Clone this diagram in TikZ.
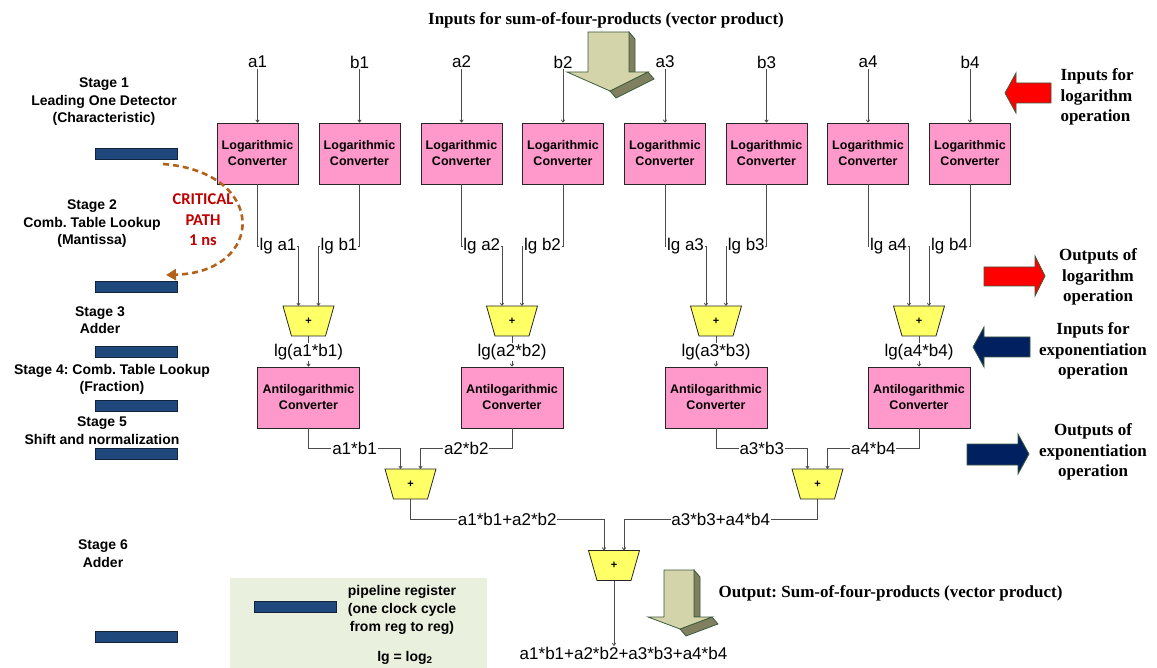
\documentclass[tikz,border=0pt]{standalone}
\usepackage{fontspec}
\setmainfont{Liberation Sans}
\newfontfamily\notefont{Liberation Serif}
\newfontfamily\critfont{Carlito}
\usetikzlibrary{arrows.meta,calc}
\frenchspacing

\definecolor{convpink}{RGB}{255,153,204}
\definecolor{addyellow}{RGB}{255,255,102}
\definecolor{regblue}{RGB}{31,73,125}
\definecolor{regedge}{RGB}{20,35,60}
\definecolor{critbrown}{RGB}{178,98,26}
\definecolor{critred}{RGB}{192,0,0}
\definecolor{arrowred}{RGB}{255,0,0}
\definecolor{arrownavy}{RGB}{0,32,96}
\definecolor{arrowedge}{RGB}{60,90,60}
\definecolor{khaki}{RGB}{212,212,170}
\definecolor{khakidark}{RGB}{128,128,96}
\definecolor{legendgreen}{RGB}{234,240,222}

\tikzset{
  conv/.style={draw=black!85, line width=0.8pt, fill=convpink, minimum width=81pt,
    minimum height=61pt, inner sep=0pt, align=center,
    font=\bfseries\fontsize{12.5}{16}\selectfont},
  aconv/.style={conv, minimum width=102pt},
  addbox/.style={rectangle, minimum width=51pt, minimum height=30pt, inner sep=0pt,
    font=\bfseries\fontsize{11}{12}\selectfont},
  adderline/.style={draw=black!85, line width=0.8pt, fill=addyellow},
  sig/.style={font=\fontsize{17}{20}\selectfont, inner sep=0.8pt},
  wlbl/.style={sig, fill=white},
  wire/.style={draw=black!70, line width=0.8pt},
  arr/.style={-{To[length=3pt,width=4pt]}},
  stagetxt/.style={align=center, font=\bfseries\fontsize{14}{17.5}\selectfont},
  reg/.style={draw=regedge, line width=0.8pt, fill=regblue, minimum width=82pt,
    minimum height=11pt, inner sep=0pt},
  note/.style={font=\notefont\bfseries\fontsize{17}{20.5}\selectfont, align=center},
  fatarrow/.style={draw=arrowedge, line width=0.8pt},
  critpath/.style={draw=critbrown, line width=2.6pt, dash pattern=on 6pt off 4pt,
    -{Triangle[length=10pt,width=11pt]}},
}

% adder: yellow trapezoid (wide side on top) with a named box for its anchors
\newcommand\addernode[3]{%
  \filldraw[adderline] (#2-25.5,#3-15) -- (#2+25.5,#3-15) -- (#2+17,#3+15)
    -- (#2-17,#3+15) -- cycle;
  \node[addbox] (#1) at (#2,#3) {+};}

\begin{document}
\begin{tikzpicture}[x=1pt,y=-1pt]
\useasboundingbox (0,0) rectangle (1157,668);

% ---- title and input arrow
\node[note] (title) at (606,20) {Inputs for sum-of-four-products (vector product)};
\fill[khakidark,fatarrow] (629,32) -- (635,39) -- (635,72) -- (629,72) -- cycle;
\fill[khakidark,fatarrow] (648,72) -- (654,79) -- (616,98) -- (610,91) -- cycle;
\fill[khaki,fatarrow] (588,32) -- (629,32) -- (629,72) -- (648,72) -- (610,91)
  -- (567,72) -- (588,72) -- cycle;

% ---- logarithmic converters
\foreach \n/\x/\t in {1/257.5/a1,2/359.5/b1,3/461.5/a2,4/563/b2,5/665/a3,6/766.5/b3,7/868/a4,8/970/b4}{
  \node[sig] (in\n) at (\x,62) {\t};
  \node[conv] (L\n) at (\x,153.5) {Logarithmic\\Converter};
  \draw[wire,arr] (in\n) -- (L\n);
}

% ---- first adders and antilogarithmic converters
\foreach \k/\x in {1/308.5,2/512,3/716,4/919}{
  \addernode{A\k}{\x}{321}
  \node[sig] (g\k) at (\x,352) {lg(a\k*b\k)};
  \node[aconv] (M\k) at (\x,397.5) {Antilogarithmic\\Converter};
  \coordinate (Al\k) at ([xshift=-10pt]A\k.north);
  \coordinate (Ar\k) at ([xshift=10pt]A\k.north);
  \draw[wire] (A\k.south) -- (g\k);
  \draw[wire,arr] (g\k) -- (M\k);
}

\coordinate (ylg) at (0,246);
\foreach \i/\k/\s/\t in {1/1/l/a1,2/1/r/b1,3/2/l/a2,4/2/r/b2,5/3/l/a3,6/3/r/b3,7/4/l/a4,8/4/r/b4}{
  \draw[wire,arr] (L\i.south) |- node[wlbl,pos=0.75]{lg \t} (A\s\k |- ylg) -- (A\s\k);
}

% ---- second level adders
\addernode{B1}{410.5}{484}
\addernode{B2}{817.5}{484}
\coordinate (Bl1) at ([xshift=-10pt]B1.north);
\coordinate (Br1) at ([xshift=10pt]B1.north);
\coordinate (Bl2) at ([xshift=-10pt]B2.north);
\coordinate (Br2) at ([xshift=10pt]B2.north);
\coordinate (yprod) at (0,448);
\draw[wire,arr] (M1.south) |- node[wlbl,pos=.75]{a1*b1} (Bl1 |- yprod) -- (Bl1);
\draw[wire,arr] (M2.south) |- node[wlbl,pos=.75]{a2*b2} (Br1 |- yprod) -- (Br1);
\draw[wire,arr] (M3.south) |- node[wlbl,pos=.75]{a3*b3} (Bl2 |- yprod) -- (Bl2);
\draw[wire,arr] (M4.south) |- node[wlbl,pos=.75]{a4*b4} (Br2 |- yprod) -- (Br2);

% ---- final adder
\addernode{F}{614}{565.5}
\coordinate (Fl) at ([xshift=-10pt]F.north);
\coordinate (Fr) at ([xshift=10pt]F.north);
\coordinate (ysum) at (0,519);
\draw[wire,arr] (B1.south) |- node[wlbl,pos=.75]{a1*b1+a2*b2} (Fl |- ysum) -- (Fl);
\draw[wire,arr] (B2.south) |- node[wlbl,pos=.75]{a3*b3+a4*b4} (Fr |- ysum) -- (Fr);
\node[sig] (out) at (623.5,653) {a1*b1+a2*b2+a3*b3+a4*b4};
\draw[wire,arr] (F.south) -- (F.south |- out.north);

% ---- output arrow
\fill[khakidark,fatarrow] (694,570) -- (700,577) -- (700,617) -- (694,617) -- cycle;
\fill[khakidark,fatarrow] (712,617) -- (718,624) -- (686,636) -- (680,629) -- cycle;
\fill[khaki,fatarrow] (664,570) -- (694,570) -- (694,617) -- (712,617) -- (680,629)
  -- (648,617) -- (664,617) -- cycle;
\node[note, anchor=west] (outnote) at (715,593) {Output: Sum-of-four-products (vector product)};

% ---- pipeline stages
\node[stagetxt] (s1) at (104,102) {Stage 1\\Leading One Detector\\(Characteristic)};
\node[stagetxt] (s2) at (92,224) {Stage 2\\Comb. Table Lookup\\(Mantissa)};
\node[stagetxt] (s3) at (100,320) {Stage 3\\Adder};
\node[stagetxt] (s4) at (112,379.5) {Stage 4: Comb. Table Lookup\\(Fraction)};
\node[stagetxt] (s5) at (102,430.5) {Stage 5\\Shift and normalization};
\node[stagetxt] (s6) at (103,553.5) {Stage 6\\Adder};
\node[reg] (reg1) at (136,153.5) {};
\node[reg] (reg2) at (136,287) {};
\node[reg] (reg3) at (136,352) {};
\node[reg] (reg4) at (136,405.5) {};
\node[reg] (reg5) at (136,453.5) {};
\node[reg] (reg6) at (136,636.5) {};

% ---- critical path
\coordinate (cpA) at (163,164);
\coordinate (cpB) at (166,275);
\draw[critpath] (cpA) .. controls (268,172) and (266,272) .. (cpB);
\node[align=center, text=critred, font=\critfont\bfseries\fontsize{16.5}{20.5}\selectfont]
  (crit) at (203,220) {CRITICAL\\PATH\\1 ns};

% ---- legend
\fill[legendgreen] (230,578) rectangle (487,668);
\node[reg] (legreg) at (295,606.5) {};
\node[stagetxt, font=\bfseries\fontsize{14}{18}\selectfont] (legtxt) at (402,610)
  {pipeline register\\(one clock cycle\\from reg to reg)};
\node[font=\bfseries\fontsize{14}{17}\selectfont] (lgdef) at (405,658) {lg = log\textsubscript{2}};

% ---- side arrows and notes
\fill[arrowred,fatarrow] (1005,93) -- (1016,73) -- (1016,83) -- (1051,83) -- (1051,103)
  -- (1016,103) -- (1016,113) -- cycle;
\node[note, align=left, anchor=west] (n1) at (1057,97) {Inputs for\\logarithm\\operation};
\fill[arrowred,fatarrow] (984,267) -- (1035,267) -- (1035,256) -- (1045,276) -- (1035,296)
  -- (1035,286) -- (984,286) -- cycle;
\node[note] (n2) at (1098,277) {Outputs of\\logarithm\\operation};
\fill[arrownavy,fatarrow] (973,347) -- (984,327) -- (984,337) -- (1030,337) -- (1030,357)
  -- (984,357) -- (984,367) -- cycle;
\node[note] (n3) at (1093,351) {Inputs for\\exponentiation\\operation};
\fill[arrownavy,fatarrow] (967,444) -- (1018,444) -- (1018,434) -- (1029,454) -- (1018,474)
  -- (1018,465) -- (967,465) -- cycle;
\node[note] (n4) at (1093,452) {Outputs of\\exponentiation\\operation};
\end{tikzpicture}
\end{document}
